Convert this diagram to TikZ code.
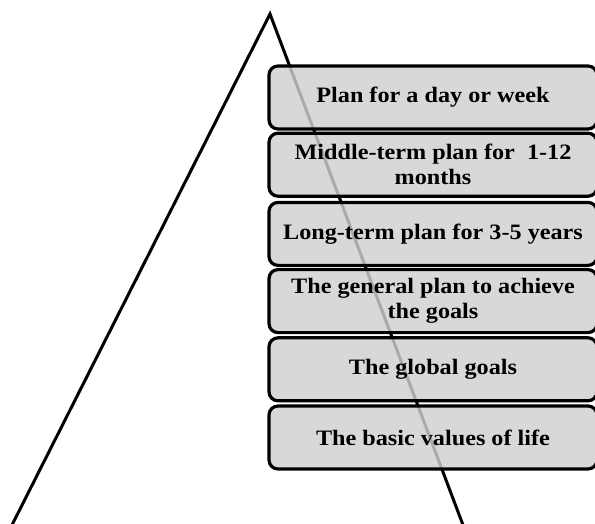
\documentclass[tikz,border=0pt]{standalone}
\usepackage{fontspec}
\setmainfont{Liberation Serif}
\newfontfamily\boxfont[FakeStretch=1.1]{Liberation Serif}
\begin{document}
\begin{tikzpicture}[x=1pt,y=-1pt,
  levelbox/.style={draw=black, line width=3.2pt, rounded corners=9pt,
    fill={rgb,255:red,208;green,208;blue,208}, fill opacity=0.82, text opacity=1,
    minimum width=328pt, minimum height=63pt, inner sep=0pt, align=center,
    font=\boxfont\fontsize{22}{25}\selectfont\bfseries},
  edge/.style={line width=3pt, line join=miter}]
\useasboundingbox (0,0) rectangle (595,523);
\coordinate (apex) at (270,14);
\coordinate (bl) at (12,525);
\coordinate (br) at (463,525);
\draw[edge] (bl) -- (apex) -- (br);
\node[levelbox] (b1) at (433,97.5) {Plan for a day or week};
\node[levelbox] (b2) at (433,164.7) {Middle-term plan for~~1-12\\months};
\node[levelbox] (b3) at (433,233.9) {Long-term plan for 3-5 years};
\node[levelbox] (b4) at (433,301.1) {The general plan to achieve\\the goals};
\node[levelbox] (b5) at (433,369.3) {The global goals};
\node[levelbox] (b6) at (433,437.5) {The basic values of life};
\end{tikzpicture}
\end{document}
